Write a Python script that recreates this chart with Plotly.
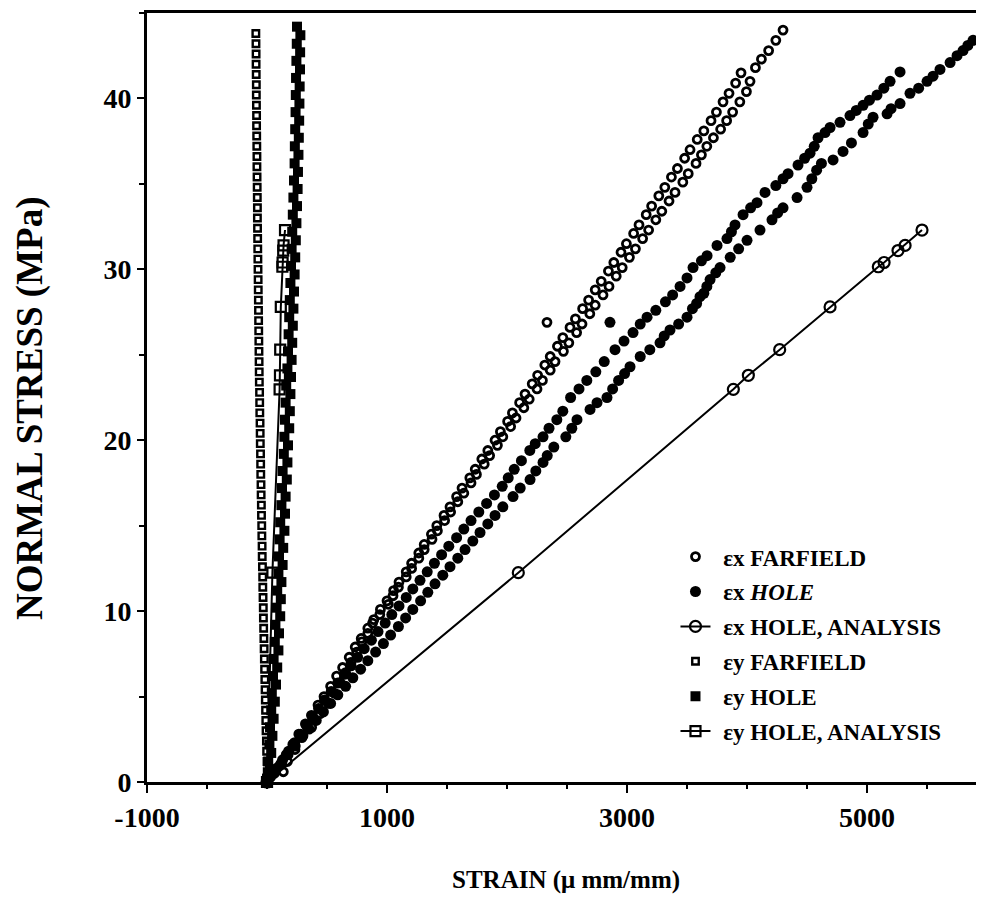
import plotly.graph_objects as go

# ---------------- data ----------------
# eps_x FARFIELD (open circles)
ex_far_x = [60, 110, 160, 215, 265, 320, 370, 425, 475, 530, 580, 630, 685, 735, 785, 840, 890, 945,
            136, 170, 233, 300, 372, 442, 511, 560, 610, 655, 700, 747, 790, 840, 880, 940, 1011,
            1000, 1055, 1100, 1160, 1205, 1265, 1310, 1370, 1415, 1475, 1525, 1580, 1625, 1690, 1735, 1790,
            1840, 1900, 1945, 2005, 2045, 2105, 2150, 2210, 2255, 2315, 2360, 2420, 2465, 2525, 2570, 2630,
            2680, 2735, 2785, 2845, 2890, 2950, 2995, 3055, 3100, 3160, 3205, 3265, 3315, 3370, 3420, 3480,
            3525, 3585, 3640, 3700, 3745, 3800, 3850, 3905, 3950,
            1050, 1095, 1160, 1205, 1265, 1310, 1375, 1420, 1480, 1530, 1590, 1640, 1700, 1745, 1810, 1855,
            1920, 1965, 2030, 2075, 2140, 2185, 2250, 2295, 2360, 2400, 2470, 2515, 2580, 2625, 2690, 2735,
            2800, 2850, 2910, 2960, 3020, 3070, 3130, 3180, 3240, 3290, 3350, 3400, 3465, 3510, 3575, 3620,
            3665, 3720, 3780, 3830, 3880, 3940, 3995, 4025, 4070, 4120, 4180, 4240, 4300,
            2333]
ex_far_y = [0.5, 1.0, 1.6, 2.2, 2.8, 3.4, 3.9, 4.5, 5.0, 5.6, 6.2, 6.7, 7.3, 7.9, 8.4, 9.0, 9.5, 10.1,
            0.6, 1.2, 1.9, 2.7, 3.2, 4.0, 4.6, 5.2, 5.8, 6.4, 7.0, 7.6, 8.2, 8.7, 9.3, 9.8, 10.4,
            10.6, 11.2, 11.7, 12.3, 12.8, 13.4, 13.9, 14.5, 15.0, 15.6, 16.1, 16.7, 17.2, 17.8, 18.3, 18.9,
            19.4, 20.0, 20.5, 21.1, 21.6, 22.2, 22.7, 23.3, 23.8, 24.4, 24.9, 25.5, 26.0, 26.6, 27.1, 27.7,
            28.2, 28.8, 29.3, 29.9, 30.4, 31.0, 31.5, 32.1, 32.6, 33.2, 33.7, 34.3, 34.8, 35.4, 35.9, 36.5,
            37.0, 37.6, 38.1, 38.7, 39.2, 39.8, 40.3, 40.9, 41.5,
            10.9, 11.4, 12.0, 12.5, 13.1, 13.6, 14.2, 14.7, 15.3, 15.8, 16.4, 16.9, 17.5, 18.0, 18.6, 19.1,
            19.7, 20.2, 20.8, 21.3, 21.9, 22.4, 23.0, 23.5, 24.1, 24.6, 25.2, 25.7, 26.3, 26.8, 27.4, 27.9,
            28.5, 29.0, 29.6, 30.1, 30.7, 31.2, 31.8, 32.3, 32.9, 33.4, 34.0, 34.5, 35.1, 35.6, 36.2, 36.7,
            37.2, 37.7, 38.2, 38.7, 39.2, 39.8, 40.4, 41.0, 41.8, 42.3, 42.8, 43.4, 44.0,
            26.9]

# eps_x HOLE (filled circles)
ex_hole_x = [30, 80, 130, 180, 230, 280, 330, 380, 430, 480, 535, 590, 645, 700, 755, 810, 870, 925, 985, 1040,
             1100, 1160, 1215, 1275, 1335, 1395, 1455, 1515, 1580, 1640, 1700, 1765, 1830, 1895, 1960, 2010,
             2060, 2120, 2190, 2235, 2300, 2350, 2415, 2465, 2530, 2600, 2665, 2740, 2810, 2900, 2975, 3050,
             3110, 3167, 3240, 3320, 3380, 3442, 3500, 3550, 3620, 3667, 3750, 3833, 3870, 3900, 3967, 4030,
             4083, 4150, 4240, 4300, 4342, 4425, 4480, 4525, 4560, 4592, 4650, 4692, 4775, 4858, 4910, 4967,
             5020, 5083, 5140, 5192, 5275,
             65, 120, 175, 235, 290, 350, 410, 470, 530, 590, 655, 715, 780, 840, 905, 970, 1030, 1095, 1155,
             1215, 1280, 1340, 1400, 1465, 1525, 1590, 1650, 1715, 1775, 1840, 1900, 1965, 2050, 2110, 2192,
             2240, 2300, 2335, 2390, 2490, 2540, 2583, 2692, 2750, 2833, 2880, 2930, 2980, 3025, 3110, 3190,
             3275, 3310, 3358, 3430, 3500, 3545, 3580, 3608, 3640, 3665, 3692, 3740, 3775, 3860, 3930, 4000,
             4108, 4208, 4255, 4300, 4417, 4500, 4540, 4580, 4620, 4717, 4800, 4870, 4967, 5010, 5050, 5167,
             5200, 5275, 5358, 5430, 5500, 5550, 5608, 5692, 5750, 5800, 5840, 5883, 5967,
             2858]
ex_hole_y = [0.3, 0.8, 1.3, 1.8, 2.3, 2.8, 3.3, 3.8, 4.3, 4.8, 5.3, 5.8, 6.3, 6.8, 7.3, 7.8, 8.3, 8.8, 9.3, 9.8,
             10.3, 10.8, 11.3, 11.8, 12.3, 12.8, 13.3, 13.8, 14.3, 14.8, 15.3, 15.8, 16.3, 16.8, 17.3, 17.8,
             18.3, 18.8, 19.4, 19.8, 20.2, 20.7, 21.2, 21.7, 22.5, 23.0, 23.5, 24.0, 24.6, 25.3, 25.8, 26.3,
             26.8, 27.2, 27.6, 28.1, 28.5, 29.0, 29.5, 30.1, 30.5, 30.8, 31.4, 31.8, 32.2, 32.6, 33.2, 33.6,
             33.9, 34.5, 34.9, 35.3, 35.6, 36.1, 36.5, 36.8, 37.2, 37.7, 38.0, 38.3, 38.6, 39.0, 39.3, 39.6,
             39.9, 40.2, 40.6, 41.0, 41.55,
             0.6, 1.1, 1.6, 2.1, 2.6, 3.1, 3.6, 4.1, 4.6, 5.1, 5.6, 6.1, 6.6, 7.1, 7.6, 8.1, 8.6, 9.1, 9.6,
             10.1, 10.6, 11.1, 11.6, 12.1, 12.6, 13.1, 13.6, 14.1, 14.6, 15.1, 15.6, 16.1, 16.7, 17.2, 17.7,
             18.2, 18.7, 19.1, 19.6, 20.2, 20.7, 21.2, 21.8, 22.2, 22.5, 23.0, 23.5, 23.9, 24.3, 24.9, 25.3,
             25.7, 26.1, 26.45, 26.8, 27.2, 27.7, 28.0, 28.4, 28.6, 29.0, 29.4, 29.8, 30.1, 30.7, 31.2, 31.7,
             32.3, 32.9, 33.3, 33.6, 34.2, 34.8, 35.3, 35.8, 36.2, 36.4, 36.9, 37.4, 38.0, 38.5, 38.9, 39.1,
             39.4, 39.7, 40.3, 40.6, 41.0, 41.3, 41.7, 42.1, 42.5, 42.8, 43.1, 43.4, 44.0,
             26.9]

# eps_x HOLE, ANALYSIS (line with open circles)
ex_ana_x = [0, 2094, 3886, 4011, 4272, 4692, 5094, 5142, 5258, 5317, 5458]
ex_ana_y = [0, 12.25, 22.98, 23.8, 25.3, 27.8, 30.15, 30.4, 31.1, 31.4, 32.3]

# eps_y FARFIELD (open squares)
ey_far_x = [5, 2, 0, -3, -5, -8, -10, -12, -14, -16, -18, -20, -22, -24, -26, -28, -30, -31, -33, -35,
            -36, -38, -40, -41, -43, -44, -46, -47, -49, -50, -52, -53, -54, -56, -57, -58, -60, -61, -62,
            -64, -65, -66, -67, -68, -69, -70, -71, -72, -73, -74, -75, -76, -77, -78, -79, -80, -80, -81,
            -82, -83, -84, -84, -85, -86, -87, -87, -88, -89, -89, -90, -91, -91, -92, -93]
ey_far_y = [0.0, 0.6, 1.2, 1.8, 2.4, 3.0, 3.6, 4.2, 4.8, 5.4, 6.0, 6.6, 7.2, 7.8, 8.4, 9.0, 9.6, 10.2, 10.8,
            11.4, 12.0, 12.6, 13.2, 13.8, 14.4, 15.0, 15.6, 16.2, 16.8, 17.4, 18.0, 18.6, 19.2, 19.8, 20.4,
            21.0, 21.6, 22.2, 22.8, 23.4, 24.0, 24.6, 25.2, 25.8, 26.4, 27.0, 27.6, 28.2, 28.8, 29.4, 30.0,
            30.6, 31.2, 31.8, 32.4, 33.0, 33.6, 34.2, 34.8, 35.4, 36.0, 36.6, 37.2, 37.8, 38.4, 39.0, 39.6,
            40.2, 40.8, 41.4, 42.0, 42.6, 43.2, 43.8]

# eps_y HOLE (filled squares)
ey_hole_x = [0, 25, 10, 35, 20, 45, 25, 55, 35, 65, 40, 75, 50, 85, 55, 95, 65, 100, 70, 110, 80, 115, 85,
             120, 95, 130, 100, 135, 105, 145, 110, 150, 120, 155, 125, 165, 130, 170, 140, 175, 145, 185,
             150, 190, 155, 195, 160, 200, 170, 205, 175, 210, 180, 215, 185, 220, 190, 225, 195, 230, 200,
             235, 205, 240, 210, 245, 215, 250, 220, 255, 225, 258, 230, 262, 232, 265, 235, 268, 238, 270,
             240, 272, 242, 275, 245, 276, 248, 278, 250]
ey_hole_y = [0.2, 0.7, 1.2, 1.7, 2.2, 2.7, 3.2, 3.7, 4.2, 4.7, 5.2, 5.7, 6.2, 6.7, 7.2, 7.7, 8.2, 8.7, 9.2,
             9.7, 10.2, 10.7, 11.2, 11.7, 12.2, 12.7, 13.2, 13.7, 14.2, 14.7, 15.2, 15.7, 16.2, 16.7, 17.2,
             17.7, 18.2, 18.7, 19.2, 19.7, 20.2, 20.7, 21.2, 21.7, 22.2, 22.7, 23.2, 23.7, 24.2, 24.7, 25.2,
             25.7, 26.2, 26.7, 27.2, 27.7, 28.2, 28.7, 29.2, 29.7, 30.2, 30.7, 31.2, 31.7, 32.2, 32.7, 33.2,
             33.7, 34.2, 34.7, 35.2, 35.7, 36.2, 36.7, 37.2, 37.7, 38.2, 38.7, 39.2, 39.7, 40.2, 40.7, 41.2,
             41.7, 42.2, 42.7, 43.2, 43.7, 44.2]

# eps_y HOLE, ANALYSIS (line with open squares)
ey_ana_x = [0, 45, 105, 108, 110, 115, 128, 130, 135, 138, 150]
ey_ana_y = [0, 12.25, 22.98, 23.8, 25.3, 27.8, 30.15, 30.4, 31.1, 31.4, 32.3]

# tick labels
x_tickvals = [-1000, 1000, 3000, 5000]
x_ticktext = ["-1000", "1000", "3000", "5000"]
y_tickvals = [0, 10, 20, 30, 40]
y_ticktext = ["0", "10", "20", "30", "40"]

SP = "\u2004"
names = [SP + "\u03b5x FARFIELD", SP + "\u03b5x <i>HOLE</i>", SP + "\u03b5x HOLE, ANALYSIS",
         SP + "\u03b5y FARFIELD", SP + "\u03b5y HOLE", SP + "\u03b5y HOLE, ANALYSIS"]

# ---------------- figure ----------------
FONT = "Liberation Serif"
fig = go.Figure()

fig.add_trace(go.Scatter(x=ex_far_x, y=ex_far_y, mode="markers", name=names[0], legendgroup="a",
                         marker=dict(symbol="circle-open", size=8, color="black", line=dict(width=2.8)),
                         cliponaxis=False))
fig.add_trace(go.Scatter(x=ex_hole_x, y=ex_hole_y, mode="markers", name=names[1], legendgroup="b",
                         marker=dict(symbol="circle", size=11, color="black"), cliponaxis=False))
fig.add_trace(go.Scatter(x=ex_ana_x, y=ex_ana_y, mode="lines+markers", name=names[2], legendgroup="c",
                         line=dict(color="black", width=2),
                         marker=dict(symbol="circle-open", size=11, color="black", line=dict(width=2.2)),
                         cliponaxis=False))
fig.add_trace(go.Scatter(x=ey_far_x, y=ey_far_y, mode="markers", name=names[3], legendgroup="d",
                         marker=dict(symbol="square-open", size=6.5, color="black", line=dict(width=2.4)),
                         cliponaxis=False))
fig.add_trace(go.Scatter(x=ey_hole_x, y=ey_hole_y, mode="markers", name=names[4], legendgroup="e",
                         marker=dict(symbol="square", size=10, color="black"), cliponaxis=False))
fig.add_trace(go.Scatter(x=ey_ana_x, y=ey_ana_y, mode="lines+markers", name=names[5], legendgroup="f",
                         line=dict(color="black", width=2),
                         marker=dict(symbol="square-open", size=10, color="black", line=dict(width=2.2)),
                         cliponaxis=False))

axis_font = dict(family=FONT, size=28, color="black", weight="bold")

# The page body keeps its default 8 px margin; the figure is sized so that the page
# exactly fills the 984 x 916 window without overflow.
fig.update_layout(
    width=968, height=900,
    margin=dict(l=139, r=0, t=5, b=126),
    paper_bgcolor="white", plot_bgcolor="white",
    showlegend=True,
    legend=dict(x=0.6375, y=0.321, xanchor="left", yanchor="top",
                font=dict(family=FONT, size=23, color="black", weight="bold"),
                bgcolor="rgba(0,0,0,0)", borderwidth=0, tracegroupgap=2),
    xaxis=dict(range=[-1000, 5908], showline=True, linewidth=3, linecolor="black", mirror=True,
               showgrid=False, zeroline=False, automargin=False,
               tickmode="array", tickvals=x_tickvals, ticktext=x_ticktext,
               ticks="outside", ticklen=8, tickwidth=2, tickcolor="black",
               minor=dict(dtick=500, tick0=-1000, ticks="outside", ticklen=4, tickwidth=2, tickcolor="black"),
               tickfont=axis_font),
    yaxis=dict(range=[0, 45], showline=True, linewidth=3, linecolor="black", mirror=False,
               showgrid=False, zeroline=False, automargin=False,
               tickmode="array", tickvals=y_tickvals, ticktext=y_ticktext,
               ticks="outside", ticklen=7, tickwidth=2, tickcolor="black",
               minor=dict(dtick=5, tick0=0, ticks="outside", ticklen=5, tickwidth=2, tickcolor="black"),
               tickfont=axis_font),
    annotations=[
        dict(text="STRAIN (\u03bc mm/mm)", xref="x domain", yref="paper", x=0.506, y=-0.1274,
             xanchor="center", yanchor="middle", showarrow=False,
             font=dict(family=FONT, size=25, color="black", weight="bold")),
        dict(text="NORMAL STRESS (MPa)", xref="paper", yref="paper", x=-0.1412, y=0.4863,
             xanchor="center", yanchor="middle", showarrow=False, textangle=-90,
             font=dict(family=FONT, size=37, color="black", weight="bold")),
    ],
)

fig.write_html("out.html", config={"displayModeBar": False})
